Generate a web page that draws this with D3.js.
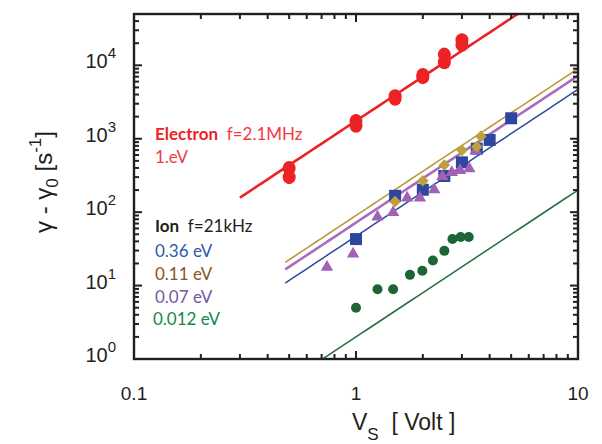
<!DOCTYPE html>
<html>
<head>
<meta charset="utf-8">
<script src="https://cdn.jsdelivr.net/npm/d3@7"></script>
<style>
html,body{margin:0;padding:0;background:#fff;}
svg{display:block;}
</style>
</head>
<body>
<svg id="chart" width="602" height="444"></svg>
<script>
// ---------- data ----------
const xDomain = [0.1, 10];
const yDomain = [1, 5e4];
const xTickValues = [0.1, 1, 10];
const xTickLabels = ["0.1", "1", "10"];
const yTickExponents = [0, 1, 2, 3, 4];

// Electron (red circles)
const electronX = [0.5, 0.5, 1, 1, 1.5, 1.5, 2, 2, 2.5, 2.5, 3, 3];
const electronY = [400, 300, 1750, 1500, 3800, 3500, 7400, 6900, 14000, 11000, 22000, 19000];

// Ion 0.36 eV (blue squares)
const ion036X = [1, 1.5, 2, 2.5, 3, 3.5, 4, 5];
const ion036Y = [43, 167, 202, 311, 477, 733, 963, 1900];

// Ion 0.11 eV (gold diamonds)
const ion011X = [1.5, 2, 2.5, 3, 3.5, 3.65];
const ion011Y = [139, 268, 439, 695, 780, 1078];

// Ion 0.07 eV (purple triangles)
const ion007X = [0.74, 0.97, 1.25, 1.47, 1.7, 1.94, 2.25, 2.45, 2.7, 2.94, 3.24, 3.46];
const ion007Y = [17.8, 27, 86, 99, 156, 156, 202, 307, 348, 370, 391, 688];

// Ion 0.012 eV (green circles)
const ion0012X = [1, 1.25, 1.47, 1.75, 1.99, 2.22, 2.5, 2.72, 2.96, 3.22];
const ion0012Y = [5.0, 8.9, 8.9, 14.0, 15.9, 21.9, 29.7, 43, 46, 46];

// fitted lines y = A * x^2 : [A, xStart, xEnd]
const fitNames = ["electron", "gold", "purple", "blue", "green"];
const fitA = [1750, 90, 72, 47, 2.0];
const fitXStart = [0.3, 0.48, 0.48, 0.48, 0.7];
const fitXEnd = [5.35, 10, 10, 10, 10];

// ---------- layout ----------
const svg = d3.select("#chart");
const L = 134, R = 578, T = 14, B = 359;
const x = d3.scaleLog().domain(xDomain).range([L, R]);
const y = d3.scaleLog().domain(yDomain).range([B, T]);

const C = {
  red: "#ec2227", redText: "#ef3b3f",
  blue: "#2e479e", blueText: "#2f5aa6",
  gold: "#bf9f3e", goldLine: "#b99a3a", brownText: "#8a5424",
  purple: "#a062b4", purpleLine: "#a86cbb", purpleText: "#7456a6",
  green: "#1d6535", greenLine: "#2b7042", greenText: "#15894a",
  axis: "#231f20"
};

// ---------- fit lines ----------
const lineColors = [C.red, C.goldLine, C.purpleLine, C.blue, C.greenLine];
const lineWidths = [2.6, 1.6, 2.6, 1.5, 1.6];
const clipId = "plotclip";
svg.append("clipPath").attr("id", clipId).append("rect")
  .attr("x", L).attr("y", T).attr("width", R - L).attr("height", B - T);

const lineGen = d3.line().x(d => x(d[0])).y(d => y(d[1]));
fitNames.forEach((n, i) => {
  const xs = d3.range(0, 41).map(k => fitXStart[i] * Math.pow(fitXEnd[i] / fitXStart[i], k / 40));
  const pts = xs.map(v => [v, fitA[i] * v * v]);
  svg.append("path")
    .attr("clip-path", `url(#${clipId})`)
    .attr("d", lineGen(pts))
    .attr("fill", "none")
    .attr("stroke", lineColors[i])
    .attr("stroke-width", lineWidths[i]);
});

// ---------- markers ----------
const g = svg.append("g").attr("clip-path", `url(#${clipId})`);
function zip(a, b) { return a.map((v, i) => [v, b[i]]); }

// green circles
g.selectAll("circle.green").data(zip(ion0012X, ion0012Y)).join("circle")
  .attr("cx", d => x(d[0])).attr("cy", d => y(d[1])).attr("r", 5).attr("fill", C.green);

// blue squares
g.selectAll("rect.blue").data(zip(ion036X, ion036Y)).join("rect")
  .attr("x", d => x(d[0]) - 6).attr("y", d => y(d[1]) - 6)
  .attr("width", 12).attr("height", 12).attr("fill", C.blue);

// purple triangles
const tri = d3.symbol().type(d3.symbolTriangle).size(66);
g.selectAll("path.purple").data(zip(ion007X, ion007Y)).join("path")
  .attr("transform", d => `translate(${x(d[0])},${y(d[1])})`)
  .attr("d", tri).attr("fill", C.purple);

// gold diamonds
g.selectAll("path.gold").data(zip(ion011X, ion011Y)).join("path")
  .attr("transform", d => `translate(${x(d[0])},${y(d[1])}) rotate(45)`)
  .attr("d", d3.symbol().type(d3.symbolSquare).size(68)).attr("fill", C.gold);

// red circles
g.selectAll("ellipse.red").data(zip(electronX, electronY)).join("ellipse")
  .attr("cx", d => x(d[0])).attr("cy", d => y(d[1])).attr("rx", 6.5).attr("ry", 7).attr("fill", C.red);

// ---------- axes ----------
const fontAx = "'Liberation Sans', Arial, Helvetica, sans-serif";
function minorTicks(lo, hi) {
  const out = [];
  for (let e = Math.floor(Math.log10(lo)); e <= Math.ceil(Math.log10(hi)); e++) {
    for (let m = 1; m <= 9; m++) {
      const v = m * Math.pow(10, e);
      if (v >= lo * 0.999 && v <= hi * 1.001) out.push({ v, major: m === 1 });
    }
  }
  return out;
}
const xt = minorTicks(xDomain[0], xDomain[1]);
const yt = minorTicks(yDomain[0], yDomain[1]);

const axisG = svg.append("g").attr("stroke", C.axis).attr("stroke-width", 2);
xt.forEach(t => {
  const len = t.major ? 8 : 5;
  axisG.append("line").attr("x1", x(t.v)).attr("x2", x(t.v)).attr("y1", B).attr("y2", B - len);
  axisG.append("line").attr("x1", x(t.v)).attr("x2", x(t.v)).attr("y1", T).attr("y2", T + len);
});
yt.forEach(t => {
  const len = t.major ? 8 : 5;
  axisG.append("line").attr("y1", y(t.v)).attr("y2", y(t.v)).attr("x1", L).attr("x2", L + len);
  axisG.append("line").attr("y1", y(t.v)).attr("y2", y(t.v)).attr("x1", R).attr("x2", R - len);
});
svg.append("rect").attr("x", L).attr("y", T).attr("width", R - L).attr("height", B - T)
  .attr("fill", "none").attr("stroke", C.axis).attr("stroke-width", 2.4);

// x tick labels
xTickValues.forEach((v, i) => {
  svg.append("text").attr("x", x(v)).attr("y", 400)
    .attr("text-anchor", "middle").attr("font-family", fontAx).attr("font-size", 19)
    .attr("fill", "#231f20").text(xTickLabels[i]);
});
// y tick labels 10^n
yTickExponents.forEach(e => {
  const t = svg.append("text").attr("x", 116).attr("y", y(Math.pow(10, e)) + 3)
    .attr("text-anchor", "end").attr("font-family", fontAx).attr("fill", "#231f20");
  t.append("tspan").attr("font-size", 20).text("10");
  t.append("tspan").attr("font-size", 15).attr("dy", -10).text(String(e));
});

// axis titles
const xTitle = svg.append("text").attr("x", 352).attr("y", 430)
  .attr("font-family", fontAx).attr("font-size", 23).attr("fill", "#231f20");
xTitle.append("tspan").text("V");
xTitle.append("tspan").attr("font-size", 17).attr("dy", 10).text("S");
xTitle.append("tspan").attr("dy", -10).text("\u00a0\u00a0[ Volt ]");

const yTitle = svg.append("text").attr("transform", "translate(52,182) rotate(-90)")
  .attr("text-anchor", "middle").attr("font-family", fontAx).attr("font-size", 24).attr("fill", "#231f20");
yTitle.append("tspan").text("\u03b3 - \u03b3");
yTitle.append("tspan").attr("font-size", 17).attr("dy", 6).text("0");
yTitle.append("tspan").attr("dy", -6).text(" [s");
yTitle.append("tspan").attr("font-size", 17).attr("dy", -11).text("-1");
yTitle.append("tspan").attr("dy", 11).text("]");

// legend texts
const fontLeg = "Lato, 'Open Sans', sans-serif";
const legLines = [
  { x: 155, y: 140, parts: [{ t: "Electron", c: C.red, w: "bold" }, { t: "\u00a0 f=2.1MHz", c: C.redText, w: "normal" }] },
  { x: 155, y: 163, parts: [{ t: "1.eV", c: C.redText, w: "normal" }] },
  { x: 155, y: 232, parts: [{ t: "Ion", c: "#231f20", w: "bold" }, { t: "\u00a0 f=21kHz", c: "#231f20", w: "normal" }] },
  { x: 155, y: 257, parts: [{ t: "0.36 eV", c: C.blueText, w: "normal" }] },
  { x: 155, y: 280, parts: [{ t: "0.11 eV", c: C.brownText, w: "normal" }] },
  { x: 155, y: 303, parts: [{ t: "0.07 eV", c: C.purpleText, w: "normal" }] },
  { x: 153, y: 325, parts: [{ t: "0.012 eV", c: C.greenText, w: "normal" }] }
];
legLines.forEach(l => {
  const t = svg.append("text").attr("x", l.x).attr("y", l.y)
    .attr("font-family", fontLeg).attr("font-size", 17);
  l.parts.forEach(p => t.append("tspan").attr("fill", p.c).attr("font-weight", p.w).text(p.t));
});
</script>
</body>
</html>
